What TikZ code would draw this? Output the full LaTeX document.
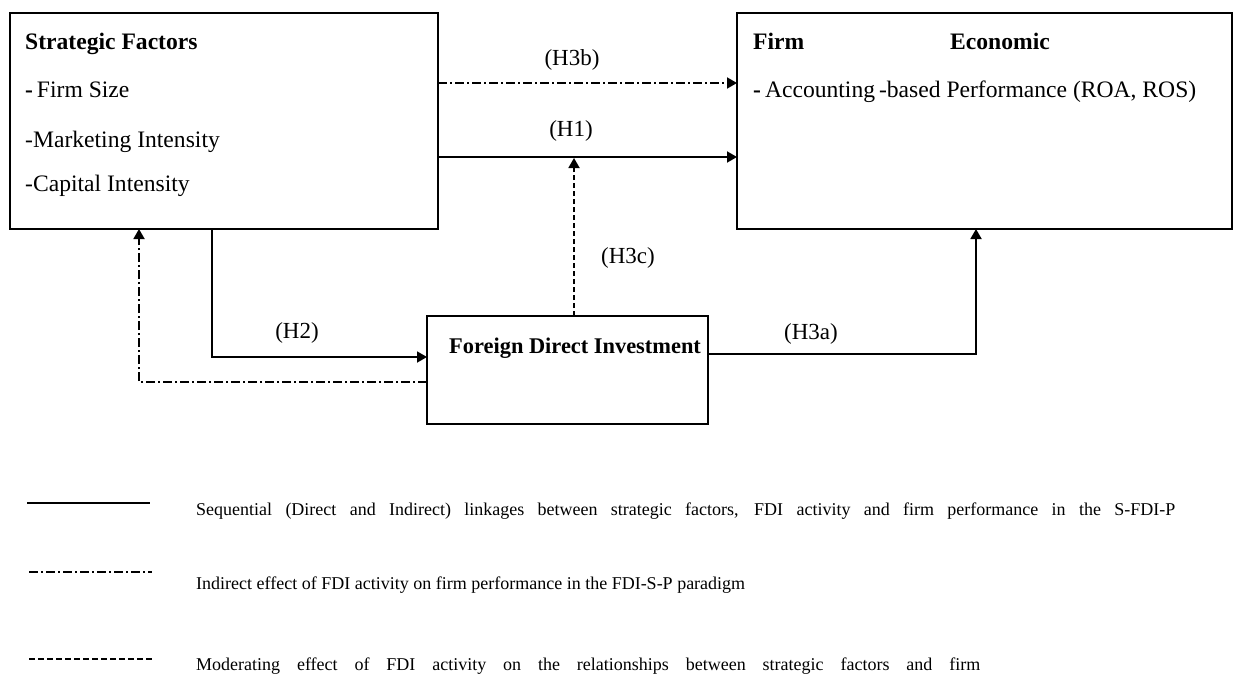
\documentclass[tikz,border=0pt]{standalone}
\usepackage{fontspec}
\setmainfont{Liberation Serif}
\usetikzlibrary{arrows.meta}
\begin{document}
\begin{tikzpicture}[x=1pt,y=-1pt,
  box/.style={draw, line width=2pt, inner sep=0pt, outer sep=0pt, anchor=north west},
  conn/.style={line width=1.8pt},
  arr/.style={-{Triangle[length=10pt,width=11pt]}},
  dashdotline/.style={dash pattern=on 9pt off 3pt on 2pt off 3pt},
  dashline/.style={dash pattern=on 5pt off 3pt},
  txt/.style={anchor=base west, inner sep=0pt, font=\fontsize{23.6}{28}\selectfont},
  btxt/.style={anchor=base west, inner sep=0pt, font=\fontsize{23.6}{28}\selectfont\bfseries},
  lbl/.style={inner sep=0pt, font=\fontsize{23}{27}\selectfont},
  legtxt/.style={anchor=base west, inner sep=0pt, font=\fontsize{18}{22}\selectfont}]
\useasboundingbox (0,0) rectangle (1233,674);
% boxes
\node[box, minimum width=428pt, minimum height=216pt] (sf) at (10,13) {};
\node[box, minimum width=495pt, minimum height=216pt] (firm) at (737,13) {};
\node[box, minimum width=281pt, minimum height=108pt] (fdi) at (427,316) {};
% box texts
\node[btxt] (sft) at (25,50) {Strategic Factors};
\node[txt] (sf1) at (25,98) {\textbf{-}\,Firm Size};
\node[txt] (sf2) at (25,147) {-Marketing Intensity};
\node[txt] (sf3) at (25,191) {-Capital Intensity};
\node[btxt] (fe1) at (753,50) {Firm};
\node[btxt] (fe2) at (950,50) {Economic};
\node[txt] (fe3) at (753,98) {\textbf{-}\,Accounting\,-based Performance (ROA, ROS)};
\node[btxt, font=\fontsize{22.4}{27}\selectfont\bfseries] (fdit) at (449,353) {Foreign Direct Investment};
% labels
\node[lbl] (lh3b) at (572,60) {(H3b)};
\node[lbl] (lh1) at (571,131) {(H1)};
\node[lbl] (lh3c) at (628,258) {(H3c)};
\node[lbl] (lh2) at (297,333) {(H2)};
\node[lbl] (lh3a) at (811,334) {(H3a)};
% connectors
\draw[conn,arr,dashdotline] (sf.east |- 0,83) -- (firm.west |- 0,83);
\draw[conn,arr] (sf.east |- 0,157) -- (firm.west |- 0,157);
\coordinate (h3cE) at (574,158);
\draw[conn,arr,dashline] (fdi.north -| h3cE) -- (h3cE);
\draw[conn,arr] (sf.south -| 212,0) |- (fdi.west |- 0,357);
\draw[conn,arr,dashdotline] (fdi.west |- 0,382) -| (sf.south -| 139,0);
\draw[conn,arr] (fdi.east |- 0,354) -| (firm.south -| 976,0);
% legend
\draw[line width=2.5pt] (27,503) -- (150,503);
\draw[line width=2.2pt, dash pattern=on 9pt off 3pt on 2pt off 3pt] (29,572) -- (152,572);
\draw[line width=2pt, dash pattern=on 6pt off 3pt] (29,659) -- (152,659);
\node[legtxt] (l1) at (196,515) {\makebox[979pt][s]{Sequential (Direct and Indirect) linkages between strategic factors, FDI activity and firm performance in the S-FDI-P}};
\node[legtxt] (l2) at (196,589) {Indirect effect of FDI activity on firm performance in the FDI-S-P paradigm};
\node[legtxt] (l3) at (196,670) {\makebox[784pt][s]{Moderating effect of FDI activity on the relationships between strategic factors and firm}};
\end{tikzpicture}
\end{document}
